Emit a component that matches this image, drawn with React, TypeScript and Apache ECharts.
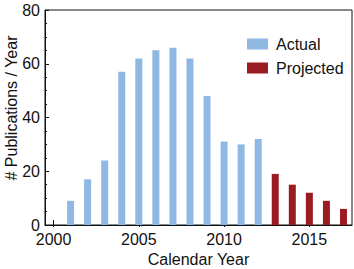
import React, { useEffect, useRef } from "react";
import * as echarts from "echarts";

const years = ["2000","2001","2002","2003","2004","2005","2006","2007","2008","2009","2010","2011","2012","2013","2014","2015","2016","2017"];
const actualYears = ["2001","2002","2003","2004","2005","2006","2007","2008","2009","2010","2011","2012"];
const actualValues = [9, 17, 24, 57, 62, 65, 66, 62, 48, 31, 30, 32];
const projectedYears = ["2013","2014","2015","2016","2017"];
const projectedValues = [19, 15, 12, 9, 6];
const yTicks = [0, 20, 40, 60, 80];

const FONT = "'Liberation Sans', Arial, Helvetica, sans-serif";

export default function App() {
  const ref = useRef<HTMLDivElement>(null);
  useEffect(() => {
    if (!ref.current) return;
    const chart = echarts.init(ref.current, null, { renderer: "svg" });
    const actualData = years.map((y) => {
      const i = actualYears.indexOf(y);
      return i >= 0 ? actualValues[i] : null;
    });
    const projectedData = years.map((y) => {
      const i = projectedYears.indexOf(y);
      return i >= 0 ? projectedValues[i] : null;
    });
    const isMajor = (idx: number) => Number(years[idx]) % 5 === 0;
    const baseX = {
      type: "category" as const,
      data: years,
      position: "bottom" as const,
      boundaryGap: true,
    };
    chart.setOption({
      animation: false,
      textStyle: { fontFamily: FONT },
      grid: {
        left: 45,
        right: 2,
        top: 10,
        bottom: 44,
        outerBoundsMode: "none",
        containLabel: false,
        show: true,
        borderColor: "#111",
        borderWidth: 1,
        backgroundColor: "transparent",
      },
      legend: {
        orient: "vertical",
        left: 247,
        top: 36,
        padding: 0,
        itemWidth: 21,
        itemHeight: 11,
        itemGap: 8,
        icon: "rect",
        textStyle: { fontSize: 16, color: "#111", fontFamily: FONT, padding: [0, 0, 0, 3] },
        data: ["Actual", "Projected"],
      },
      xAxis: [
        {
          ...baseX,
          name: "Calendar Year",
          nameLocation: "middle",
          nameGap: 24,
          nameTextStyle: { fontSize: 16, color: "#111", fontFamily: FONT },
          axisLine: { show: true, lineStyle: { color: "#111", width: 1 } },
          axisTick: {
            show: true,
            inside: true,
            length: 5,
            alignWithLabel: true,
            interval: (idx: number) => isMajor(idx),
            lineStyle: { color: "#111", width: 1 },
          },
          axisLabel: {
            interval: (idx: number) => isMajor(idx),
            fontSize: 16,
            color: "#111",
            margin: 6,
            fontFamily: FONT,
          },
          splitLine: { show: false },
        },
        {
          ...baseX,
          axisLine: { show: false },
          axisTick: {
            show: true,
            inside: true,
            length: 2,
            alignWithLabel: true,
            interval: 0,
            lineStyle: { color: "#111", width: 1 },
          },
          axisLabel: { show: false },
          splitLine: { show: false },
        },
        {
          ...baseX,
          axisLine: { show: false },
          axisTick: {
            show: true,
            inside: false,
            length: 2,
            alignWithLabel: true,
            interval: (idx: number) => isMajor(idx),
            lineStyle: { color: "#111", width: 1 },
          },
          axisLabel: { show: false },
          splitLine: { show: false },
        },
      ],
      yAxis: {
        type: "value",
        min: yTicks[0],
        max: yTicks[yTicks.length - 1],
        interval: 20,
        axisLine: { show: true, lineStyle: { color: "#111", width: 1 } },
        axisTick: { show: true, inside: true, length: 4, lineStyle: { color: "#111" } },
        minorTick: { show: true, splitNumber: 4, length: 2, lineStyle: { color: "#111" } },
        axisLabel: { fontSize: 16, color: "#111", margin: 5, fontFamily: FONT },
        splitLine: { show: false },
      },
      graphic: [
        {
          type: "text",
          x: 11,
          y: 108,
          rotation: Math.PI / 2,
          style: {
            text: "# Publications / Year",
            fontSize: 16,
            fontFamily: FONT,
            fill: "#111",
            align: "center",
            verticalAlign: "middle",
          },
        },
      ],
      series: [
        {
          name: "Actual",
          type: "bar",
          stack: "total",
          xAxisIndex: 0,
          barWidth: 7,
          itemStyle: { color: "#8fb8e3" },
          data: actualData,
        },
        {
          name: "Projected",
          type: "bar",
          stack: "total",
          xAxisIndex: 0,
          barWidth: 7,
          itemStyle: { color: "#9b1b23" },
          data: projectedData,
        },
      ],
    });
    return () => chart.dispose();
  }, []);
  return <div ref={ref} style={{ width: 354, height: 269, position: "absolute", left: 0, top: 0 }} />;
}
